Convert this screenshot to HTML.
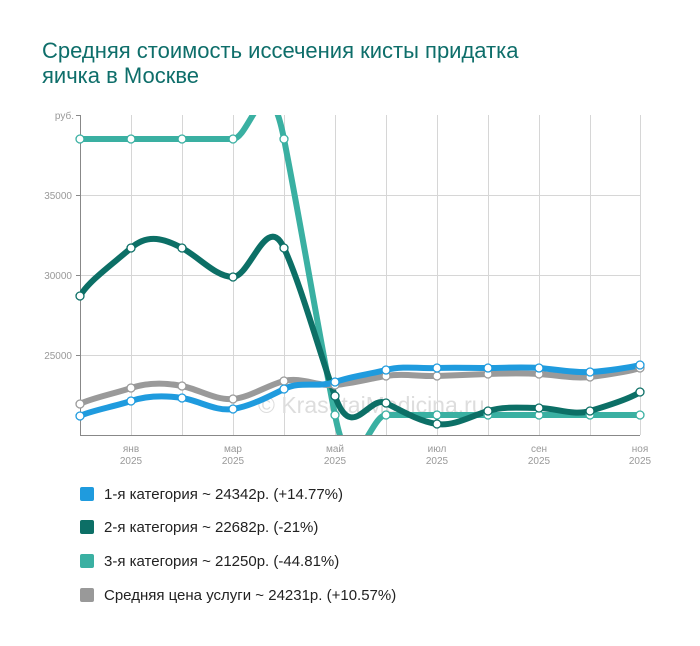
<!DOCTYPE html>
<html><head><meta charset="utf-8"><style>
body{margin:0;background:#fff;width:700px;height:646px;overflow:hidden;font-family:"Liberation Sans",sans-serif;}
.t{position:absolute;left:42px;top:38px;font-size:22px;line-height:25px;color:#0e6e6a;}
.lg{position:absolute;left:80px;font-size:15px;color:#222;}
.lg span{display:inline-block;width:14px;height:14px;border-radius:2px;vertical-align:-2px;margin-right:10px;}
</style></head><body>
<div class="t">Средняя стоимость иссечения кисты придатка<br>яичка в Москве</div>
<svg id="s" width="700" height="646" style="position:absolute;left:0;top:0">
<defs><clipPath id="c"><rect x="80" y="115" width="565" height="320"/></clipPath></defs>
<g stroke="#d6d6d6" stroke-width="1">
<line x1="80" y1="195.5" x2="640" y2="195.5"/><line x1="80" y1="275.5" x2="640" y2="275.5"/><line x1="80" y1="355.5" x2="640" y2="355.5"/>
<line x1="131.5" y1="115" x2="131.5" y2="435"/><line x1="182.5" y1="115" x2="182.5" y2="435"/><line x1="233.5" y1="115" x2="233.5" y2="435"/><line x1="284.5" y1="115" x2="284.5" y2="435"/><line x1="335.5" y1="115" x2="335.5" y2="435"/><line x1="386.5" y1="115" x2="386.5" y2="435"/><line x1="437.5" y1="115" x2="437.5" y2="435"/><line x1="488.5" y1="115" x2="488.5" y2="435"/><line x1="539.5" y1="115" x2="539.5" y2="435"/><line x1="590.5" y1="115" x2="590.5" y2="435"/><line x1="640.5" y1="115" x2="640.5" y2="435"/>
</g>
<g stroke="#888" stroke-width="1"><line x1="80.5" y1="115" x2="80.5" y2="435"/><line x1="80" y1="435.5" x2="640" y2="435.5"/>
<line x1="76" y1="115.5" x2="80" y2="115.5"/><line x1="76" y1="195.5" x2="80" y2="195.5"/><line x1="76" y1="275.5" x2="80" y2="275.5"/><line x1="76" y1="355.5" x2="80" y2="355.5"/></g>
<g font-size="10" fill="#999" text-anchor="end"><text x="74" y="119">руб.</text><text x="72" y="199">35000</text><text x="72" y="279">30000</text><text x="72" y="359">25000</text></g>
<g font-size="10" fill="#999" text-anchor="middle">
<text x="131" y="452">янв</text><text x="131" y="464">2025</text>
<text x="233" y="452">мар</text><text x="233" y="464">2025</text>
<text x="335" y="452">май</text><text x="335" y="464">2025</text>
<text x="437" y="452">июл</text><text x="437" y="464">2025</text>
<text x="539" y="452">сен</text><text x="539" y="464">2025</text>
<text x="640" y="452">ноя</text><text x="640" y="464">2025</text></g>
<text x="258" y="413" font-size="23" fill="#ddd">© KrasotaiMedicina.ru</text>
<g id="L" clip-path="url(#c)" fill="none" stroke-width="6"></g>
<g id="P" fill="#fff" stroke-width="1.3"></g>
</svg>
<div class="lg" style="top:486px"><span style="background:#1f9bde"></span>1-я категория ~ 24342р. (+14.77%)</div>
<div class="lg" style="top:519px"><span style="background:#0c6f66"></span>2-я категория ~ 22682р. (-21%)</div>
<div class="lg" style="top:553px"><span style="background:#3ab0a2"></span>3-я категория ~ 21250р. (-44.81%)</div>
<div class="lg" style="top:587px"><span style="background:#999"></span>Средняя цена услуги ~ 24231р. (+10.57%)</div>
<script>
var X=[80,131,182,233,284,335,386,437,488,539,590,640];
var S=[
["#3ab0a2",[139,139,139,139,139,415,415,415,415,415,415,415]],
["#0c6f66",[296,248,248,277,248,396,403,424,411,408,411,392]],
["#9a9a9a",[404,388,386,399,381,385,376,376,374,374,377,368]],
["#1f9bde",[416,401,398,409,389,382,370,368,368,368,372,365]]];
var K=3.2;
var ns="http://www.w3.org/2000/svg",L=document.getElementById("L"),P=document.getElementById("P");
S.forEach(function(s){var y=s[1],d="M"+X[0]+","+y[0];
for(var i=0;i<11;i++){var x0=X[Math.max(i-1,0)],y0=y[Math.max(i-1,0)],x3=X[Math.min(i+2,11)],y3=y[Math.min(i+2,11)];
d+="C"+(X[i]+(X[i+1]-x0)/6)+","+(y[i]+(y[i+1]-y0)/K)+" "+(X[i+1]-(x3-X[i])/6)+","+(y[i+1]-(y3-y[i])/K)+" "+X[i+1]+","+y[i+1];}
var p=document.createElementNS(ns,"path");p.setAttribute("d",d);p.setAttribute("stroke",s[0]);L.appendChild(p);
for(var i=0;i<12;i++){var c=document.createElementNS(ns,"circle");c.setAttribute("cx",X[i]);c.setAttribute("cy",y[i]);c.setAttribute("r",4);c.setAttribute("stroke",s[0]);P.appendChild(c);}
});
</script>
</body></html>
